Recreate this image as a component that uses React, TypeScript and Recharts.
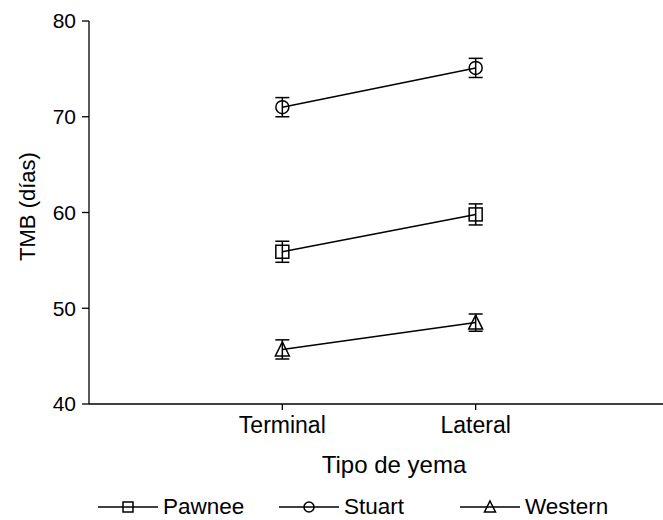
import React from "react";
import { LineChart, Line, XAxis, YAxis, ErrorBar, Legend } from "recharts";

const FONT = '"Liberation Sans", Arial, sans-serif';

// Tipo de yema
const categories = ["Terminal", "Lateral"];
const categoryPos = [1, 2];

// TMB (días) por cultivar, con su error
const pawnee = [55.9, 59.8];
const pawneeErr = [1.1, 1.1];
const stuart = [71.0, 75.1];
const stuartErr = [1.0, 1.0];
const western = [45.7, 48.5];
const westernErr = [1.0, 0.9];

const yTicks = [40, 50, 60, 70, 80];

const data = categories.map((c, i) => ({
  tipo: c,
  pos: categoryPos[i],
  pawnee: pawnee[i],
  pawneeErr: pawneeErr[i],
  stuart: stuart[i],
  stuartErr: stuartErr[i],
  western: western[i],
  westernErr: westernErr[i],
}));

type Shape = "square" | "circle" | "triangle";

const Marker = ({ shape, cx, cy, s }: { shape: Shape; cx: number; cy: number; s: number }) => {
  const h = s / 2;
  if (shape === "square")
    return <rect x={cx - h} y={cy - h} width={s} height={s} fill="none" stroke="#000" strokeWidth={1.5} />;
  if (shape === "circle") return <circle cx={cx} cy={cy} r={h} fill="none" stroke="#000" strokeWidth={1.5} />;
  return (
    <polygon
      points={`${cx},${cy - h - 1} ${cx + h + 0.5},${cy + h} ${cx - h - 0.5},${cy + h}`}
      fill="none"
      stroke="#000"
      strokeWidth={1.5}
    />
  );
};

const makeDot = (shape: Shape) => (props: any) => {
  const { cx, cy, index } = props;
  if (cx == null || cy == null) return <g key={index} />;
  return (
    <g key={index}>
      <Marker shape={shape} cx={cx} cy={cy} s={13} />
    </g>
  );
};

const legendItems: { name: string; shape: Shape }[] = [
  { name: "Pawnee", shape: "square" },
  { name: "Stuart", shape: "circle" },
  { name: "Western", shape: "triangle" },
];

const renderLegend = () => (
  <div style={{ display: "flex", height: 36, paddingLeft: 98, paddingTop: 10, boxSizing: "border-box" }}>
    {legendItems.map((it) => (
      <div key={it.name} style={{ width: 181, display: "flex", alignItems: "center", height: 26 }}>
        <svg width={60} height={20} style={{ display: "block" }}>
          <line x1={0} y1={10} x2={60} y2={10} stroke="#000" strokeWidth={1.5} />
          <Marker shape={it.shape} cx={30} cy={10} s={10} />
        </svg>
        <span style={{ fontFamily: FONT, fontSize: 22.5, color: "#000", marginLeft: 5 }}>{it.name}</span>
      </div>
    ))}
  </div>
);

const YLabel = (props: any) => {
  const vb = props.viewBox || { x: 0, y: 21, height: 383 };
  const x = vb.x + 27;
  const y = vb.y + vb.height / 2 - 6;
  return (
    <text
      x={x}
      y={y}
      transform={`rotate(-90, ${x}, ${y})`}
      textAnchor="middle"
      dominantBaseline="central"
      fontFamily={FONT}
      fontSize={22}
      fill="#000"
    >
      TMB (días)
    </text>
  );
};

const XLabel = (props: any) => {
  const vb = props.viewBox || { x: 89, y: 404 };
  return (
    <text x={394} y={vb.y + 69} textAnchor="middle" fontFamily={FONT} fontSize={24} fill="#000">
      Tipo de yema
    </text>
  );
};

export default function App() {
  return (
    <div style={{ position: "absolute", left: 0, top: 0, width: 663, height: 520, background: "#fff" }}>
      <LineChart width={663} height={520} data={data} margin={{ top: 21, right: -6, left: 0, bottom: 0 }}>
        <XAxis
          dataKey="pos"
          type="number"
          domain={[0, 3]}
          ticks={categoryPos}
          tickFormatter={(v) => categories[categoryPos.indexOf(v)] ?? ""}
          height={80}
          stroke="#000"
          strokeWidth={1.3}
          tickSize={6}
          tickMargin={7}
          tick={{ fill: "#000", fontSize: 23, fontFamily: FONT }}
          label={<XLabel />}
        />
        <YAxis
          domain={[40, 80]}
          ticks={yTicks}
          width={89}
          stroke="#000"
          strokeWidth={1.3}
          tickSize={7}
          tickMargin={6}
          tick={{ fill: "#000", fontSize: 21, fontFamily: FONT }}
          label={<YLabel />}
        />
        <Legend verticalAlign="bottom" content={renderLegend} />
        <Line dataKey="stuart" stroke="#000" strokeWidth={1.5} dot={makeDot("circle")} isAnimationActive={false}>
          <ErrorBar dataKey="stuartErr" width={7} stroke="#000" strokeWidth={1.5} direction="y" />
        </Line>
        <Line dataKey="pawnee" stroke="#000" strokeWidth={1.5} dot={makeDot("square")} isAnimationActive={false}>
          <ErrorBar dataKey="pawneeErr" width={7} stroke="#000" strokeWidth={1.5} direction="y" />
        </Line>
        <Line dataKey="western" stroke="#000" strokeWidth={1.5} dot={makeDot("triangle")} isAnimationActive={false}>
          <ErrorBar dataKey="westernErr" width={7} stroke="#000" strokeWidth={1.5} direction="y" />
        </Line>
      </LineChart>
    </div>
  );
}
